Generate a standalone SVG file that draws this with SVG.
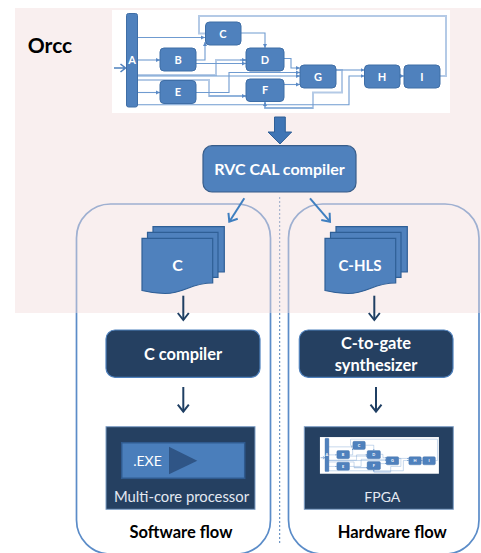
<svg xmlns="http://www.w3.org/2000/svg" xmlns:xlink="http://www.w3.org/1999/xlink" width="481" height="553" viewBox="0 0 481 553">
<style>
text{font-family:"Lato","Carlito","Open Sans",sans-serif;text-anchor:middle}
.b{font-weight:700}
.w{fill:#fff}
.n{fill:#4f81bd;stroke:#3f6ea6;stroke-width:1}
.l{fill:none;stroke:#6f9bd0;stroke-width:1.1}
.p{fill:none;stroke:#b4cae6;stroke-width:2}
.t{font-size:11px;font-weight:700;fill:#fff}
.dk{fill:#254061;stroke:#4f81bd;stroke-width:1.2}
.bx{fill:#254061;stroke:#7f9fc6;stroke-width:1}
.doc{fill:#4f81bd;stroke:#2f5f96;stroke-width:1.2}
.a1{fill:none;stroke:#1f3f63;stroke-width:2;marker-end:url(#dark)}
.a2{fill:none;stroke:#3f7fc0;stroke-width:2;marker-end:url(#blue)}
.flow{fill:none;stroke:#5b8cc8;stroke-width:1.7}
</style>
<defs>
<marker id="tip" markerWidth="5" markerHeight="5" refX="4" refY="2.5" orient="auto" markerUnits="userSpaceOnUse"><path d="M0,0.5L4,2.5L0,4.5Z" fill="#5a8ac6"/></marker>
<marker id="dark" markerWidth="14" markerHeight="14" refX="10.500" refY="7" orient="auto" markerUnits="userSpaceOnUse"><path d="M3.500,1.500L10.500,7L3.500,12.500" fill="none" stroke="#1f3f63" stroke-width="2"/></marker>
<marker id="blue" markerWidth="14" markerHeight="14" refX="10.500" refY="7" orient="auto" markerUnits="userSpaceOnUse"><path d="M3.500,1.500L10.500,7L3.500,12.500" fill="none" stroke="#3f7fc0" stroke-width="2"/></marker>
<g id="net">
<rect x="112" y="10" width="338" height="103" fill="#fff"/>
<g id="connectors">
<path class="p" d="M440,76H446V16H199V33.500H205"/>
<path class="p" d="M336,70H342V92.500H313V108H265V102"/>
<path class="p" d="M137,75H216V60H246"/>
<path class="p" d="M137,80H209V96H246"/>
<path class="l" marker-end="url(#tip)" d="M137.500,37.500H205"/>
<path class="l" marker-end="url(#tip)" d="M196,60H205V42"/>
<path class="l" marker-end="url(#tip)" d="M241,33H265V48"/>
<path class="l" marker-end="url(#tip)" d="M137.500,60H160"/>
<path class="l" marker-end="url(#tip)" d="M196,63.500H246"/>
<path class="l" marker-end="url(#tip)" d="M240,60H246"/>
<path class="l" marker-end="url(#tip)" d="M284,58.500H291V68H300"/>
<path class="l" marker-end="url(#tip)" d="M137.500,76H300"/>
<path class="l" marker-end="url(#tip)" d="M196,92.500H229V72.500H300"/>
<path class="l" marker-end="url(#tip)" d="M209,96H246"/>
<path class="l" marker-end="url(#tip)" d="M137.500,92.500H160"/>
<path class="l" marker-end="url(#tip)" d="M284,84.500H300"/>
<path class="l" marker-end="url(#tip)" d="M137.500,104.700H349V76H364.500"/>
<path class="l" marker-end="url(#tip)" d="M336,70H364.500"/>
<path class="l" marker-end="url(#tip)" d="M400,76H404"/>
<path class="l" marker-end="url(#tip)" d="M313,108H265V102"/>
<path d="M114,68H125M120.500,64L125.500,68L120.500,72" fill="none" stroke="#4f81bd" stroke-width="1.600"/>
</g>
<g id="node-a"><rect class="n" x="126.500" y="13.500" width="11" height="93.500" rx="2"/><text class="t" x="132" y="64">A</text></g>
<g id="node-b"><rect class="n" x="160" y="48" width="36" height="23" rx="4"/><text class="t" x="178" y="63.500">B</text></g>
<g id="node-c"><rect class="n" x="205.500" y="22" width="35.500" height="23" rx="4"/><text class="t" x="223" y="37.500">C</text></g>
<g id="node-d"><rect class="n" x="246" y="48" width="38" height="23" rx="4"/><text class="t" x="265" y="63.500">D</text></g>
<g id="node-e"><rect class="n" x="160" y="80.500" width="36" height="23" rx="4"/><text class="t" x="178" y="96">E</text></g>
<g id="node-f"><rect class="n" x="246" y="79" width="38" height="22.500" rx="4"/><text class="t" x="265" y="94">F</text></g>
<g id="node-g"><rect class="n" x="300" y="65" width="36" height="23" rx="4"/><text class="t" x="318" y="80.500">G</text></g>
<g id="node-h"><rect class="n" x="364.500" y="65" width="35.500" height="23" rx="4"/><text class="t" x="382" y="80.500">H</text></g>
<g id="node-i"><rect class="n" x="404" y="65" width="36" height="23" rx="4"/><text class="t" x="422" y="80.500">I</text></g>
</g>
<g id="doc"><path class="doc" d="M153,226.700H224.300V272H153Z"/><path class="doc" d="M147.500,232.300H218V277.300H147.500Z"/><path class="doc" d="M142,238.300H212.700V283C190,283 185,293.500 165,293.500C155,293.500 148,292 142,290.500Z"/></g>
</defs>
<rect width="481" height="553" fill="#fff"/>
<g id="software-flow"><rect class="flow" x="76.500" y="204" width="194" height="350" rx="34"/></g>
<g id="hardware-flow"><rect class="flow" x="288.500" y="204" width="190.500" height="350" rx="34"/></g>
<path d="M279.700,197V543" fill="none" stroke="#4f7fb8" stroke-width="1" stroke-dasharray="2 2"/>
<rect x="15" y="8" width="466" height="305" fill="#f2dcdb" fill-opacity="0.45"/>
<use href="#net" xlink:href="#net"/>
<text class="b" x="50" y="52.500" font-size="21" fill="#000">Orcc</text>
<g id="connectors-main">
<path d="M274.500,117H285.300V132H291.700L280,144L268,132H274.500Z" fill="#3f75b5" stroke="#2f5f96"/>
<path class="a2" d="M244.300,198.300L229.300,221.700"/>
<path class="a2" d="M310,198.300L330,221.700"/>
<path class="a1" d="M183.300,295.700V320"/>
<path class="a1" d="M374.300,295.700V320"/>
<path class="a1" d="M183.300,387V411.700"/>
<path class="a1" d="M376,387V411.700"/>
</g>
<g id="compiler"><rect x="203" y="145.700" width="153" height="46.300" rx="9" fill="#4f81bd" stroke="#385d8a" stroke-width="1.200"/><text class="b w" x="279.500" y="175" font-size="16">RVC CAL compiler</text></g>
<g id="c-docs"><use href="#doc" xlink:href="#doc"/><text class="b w" x="177.500" y="271" font-size="16">C</text></g>
<g id="hls-docs"><use href="#doc" xlink:href="#doc" x="183"/><text class="b w" x="360" y="271" font-size="15">C-HLS</text></g>
<g id="c-compiler"><rect class="dk" x="106" y="330" width="154" height="47.300" rx="9"/><text class="b w" x="183" y="360" font-size="16.400">C compiler</text></g>
<g id="c-to-gate"><rect class="dk" x="299.300" y="330" width="153.700" height="47.300" rx="9"/><text class="b w" x="376" y="349" font-size="16.400">C-to-gate</text><text class="b w" x="376" y="370.500" font-size="16.400">synthesizer</text></g>
<g id="processor"><rect class="bx" x="106" y="426.700" width="149" height="82.600"/>
<rect x="121.700" y="442.700" width="123" height="35.600" fill="#4a7ebb" stroke="#2f5a8e" stroke-width="1.500"/>
<path d="M169,446.700V474.300L197.300,460.700Z" fill="#2f5586"/>
<text class="w" x="147.500" y="466" font-size="14">.EXE</text>
<text x="181.500" y="501.700" font-size="14.800" fill="#e4e9f2">Multi-core processor</text></g>
<g id="fpga"><rect class="bx" x="304.300" y="426.700" width="149" height="82.600"/>
<use href="#net" xlink:href="#net" transform="translate(280.500,433.500) scale(0.352,0.356)"/>
<text x="382.300" y="501.700" font-size="14" fill="#e4e9f2">FPGA</text></g>
<text class="b" x="181" y="538" font-size="16.500" fill="#000">Software flow</text>
<text class="b" x="392.300" y="538" font-size="16.500" fill="#000">Hardware flow</text>
</svg>
